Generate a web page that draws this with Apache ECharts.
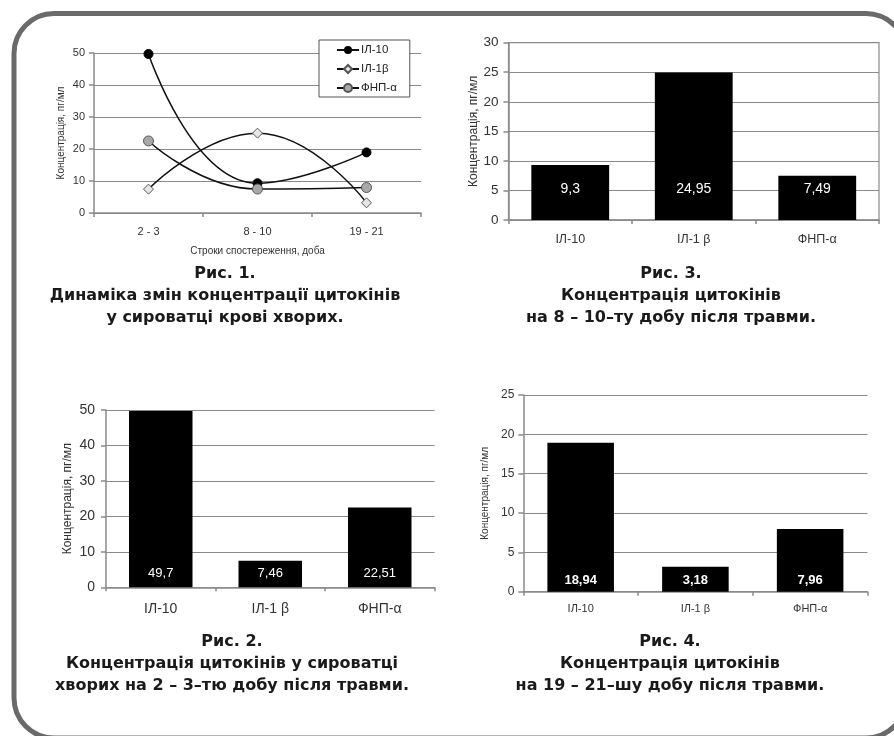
<!DOCTYPE html>
<html>
<head>
<meta charset="utf-8">
<script src="https://cdn.jsdelivr.net/npm/echarts@6/dist/echarts.min.js"></script>
<style>
html,body{margin:0;padding:0;background:#fff;}
#c{width:894px;height:736px;}
</style>
</head>
<body>
<div id="c"></div>
<script>
// ---- data ----
const periods = ['2 - 3', '8 - 10', '19 - 21'];
const il10 = [49.7, 9.3, 18.94];
const il1b = [7.46, 24.95, 3.18];
const tnf = [22.51, 7.49, 7.96];
const lineNames = ['ІЛ-10', 'ІЛ-1β', 'ФНП-α'];

const cytokines = ['ІЛ-10', 'ІЛ-1 β', 'ФНП-α'];
const day2_3 = [49.7, 7.46, 22.51];
const day8_10 = [9.3, 24.95, 7.49];
const day19_21 = [18.94, 3.18, 7.96];

const yName = 'Концентрація, пг/мл';
const xName = 'Строки спостереження, доба';

const captions = [
  'Рис. 1.\nДинаміка змін концентрації цитокінів\nу сироватці крові хворих.',
  'Рис. 3.\nКонцентрація цитокінів\nна 8 – 10–ту добу після травми.',
  'Рис. 2.\nКонцентрація цитокінів у сироватці\nхворих на 2 – 3–тю добу після травми.',
  'Рис. 4.\nКонцентрація цитокінів\nна 19 – 21–шу добу після травми.'
];

// ---- styles ----
const FF = '"Liberation Sans", Arial, sans-serif';
const AX = '#8a8a8a';
const TXT = '#333';
const fmt = v => String(v.value !== undefined ? v.value : v).replace('.', ',');

function xAx(gi, fs, margin, name) {
  return {
    type: 'category', gridIndex: gi, data: gi === 0 ? periods : cytokines,
    boundaryGap: true,
    axisLine: {lineStyle: {color: AX, width: 1.5}},
    axisTick: {show: true, length: 4, lineStyle: {color: AX, width: 1.5}},
    axisLabel: {color: TXT, fontFamily: FF, fontSize: fs, margin: margin},
    name: name || '', nameLocation: 'middle', nameGap: 33,
    nameTextStyle: {color: TXT, fontFamily: FF, fontSize: 10}
  };
}
function yAx(gi, max, interval, fs, margin, nfs, gap) {
  return {
    type: 'value', gridIndex: gi, min: 0, max: max, interval: interval,
    axisLine: {show: true, lineStyle: {color: AX, width: 1.5}},
    axisTick: {show: true, length: 5, lineStyle: {color: AX, width: 1.5}},
    axisLabel: {color: TXT, fontFamily: FF, fontSize: fs, margin: margin},
    splitLine: {show: true, lineStyle: {color: AX, width: 1.2}},
    name: yName, nameLocation: 'middle', nameGap: gap, nameRotate: 90,
    nameTextStyle: {color: TXT, fontFamily: FF, fontSize: nfs}
  };
}
function barSeries(name, gi, data, width, labelFs, labelDist, bold) {
  return {
    type: 'bar', name: name, xAxisIndex: gi, yAxisIndex: gi, data: data,
    barWidth: width, itemStyle: {color: '#000'},
    label: {show: true, position: 'insideBottom', distance: labelDist, color: '#fff',
      fontFamily: FF, fontSize: labelFs, fontWeight: bold ? 'bold' : 'normal', formatter: fmt},
    silent: true
  };
}

const chart = echarts.init(document.getElementById('c'), null, {renderer: 'canvas'});

const capPos = [[225, 263], [671, 263], [232, 631], [670, 631]];

const option = {
  animation: false,
  backgroundColor: '#fff',
  textStyle: {fontFamily: FF},
  grid: [
    {left: 94, top: 53, width: 327, height: 160},
    {left: 508.5, top: 42.7, width: 370.5, height: 177.3, show: true, borderColor: AX, borderWidth: 1.2},
    {left: 106, top: 410, width: 328.5, height: 177.3},
    {left: 523.3, top: 395, width: 344.2, height: 196.7}
  ],
  xAxis: [xAx(0, 11, 13, xName), xAx(1, 12.5, 13), xAx(2, 14, 15), xAx(3, 11, 12)],
  yAxis: [yAx(0, 50, 10, 11, 9, 10, 28), yAx(1, 30, 5, 13.5, 10, 12, 27), yAx(2, 50, 10, 14, 11, 12, 32), yAx(3, 25, 5, 12, 9, 10, 33)],
  legend: {
    data: lineNames, orient: 'vertical', left: 319, top: 40,
    backgroundColor: '#fff', borderColor: '#555', borderWidth: 1,
    padding: [4, 13, 3, 17], itemGap: 7, itemWidth: 22, itemHeight: 10,
    textStyle: {color: '#222', fontFamily: FF, fontSize: 11.5, padding: [0, 0, 0, -3]},
    z: 10
  },
  series: [
    {type: 'line', name: lineNames[0], xAxisIndex: 0, yAxisIndex: 0, data: il10, smooth: true,
      symbol: 'circle', symbolSize: 9, showAllSymbol: true,
      lineStyle: {color: '#111', width: 1.5}, itemStyle: {color: '#000', borderColor: '#000'}},
    {type: 'line', name: lineNames[1], xAxisIndex: 0, yAxisIndex: 0, data: il1b, smooth: true,
      symbol: 'diamond', symbolSize: 10,
      lineStyle: {color: '#111', width: 1.5}, itemStyle: {color: '#e6e6e6', borderColor: '#555', borderWidth: 1}},
    {type: 'line', name: lineNames[2], xAxisIndex: 0, yAxisIndex: 0, data: tnf, smooth: true,
      symbol: 'circle', symbolSize: 10,
      lineStyle: {color: '#111', width: 1.5}, itemStyle: {color: '#a8a8a8', borderColor: '#555', borderWidth: 1}},
    barSeries('d8_10', 1, day8_10, '63%', 14, 24, false),
    barSeries('d2_3', 2, day2_3, '58%', 13, 7, false),
    barSeries('d19_21', 3, day19_21, '58%', 13, 5, true)
  ],
  graphic: [
    {type: 'rect', shape: {x: 14, y: 13.5, width: 892, height: 724.5, r: 40},
      style: {fill: 'none', stroke: '#6a6a6a', lineWidth: 5}, silent: true, z: 100}
  ].concat(captions.map((t, i) => ({
    type: 'text', x: capPos[i][0], y: capPos[i][1], silent: true,
    style: {text: t, align: 'center', verticalAlign: 'top', fill: '#1a1a1a',
      font: 'bold 16px "DejaVu Sans", sans-serif', lineHeight: 22}
  })))
};
chart.setOption(option);
</script>
</body>
</html>
